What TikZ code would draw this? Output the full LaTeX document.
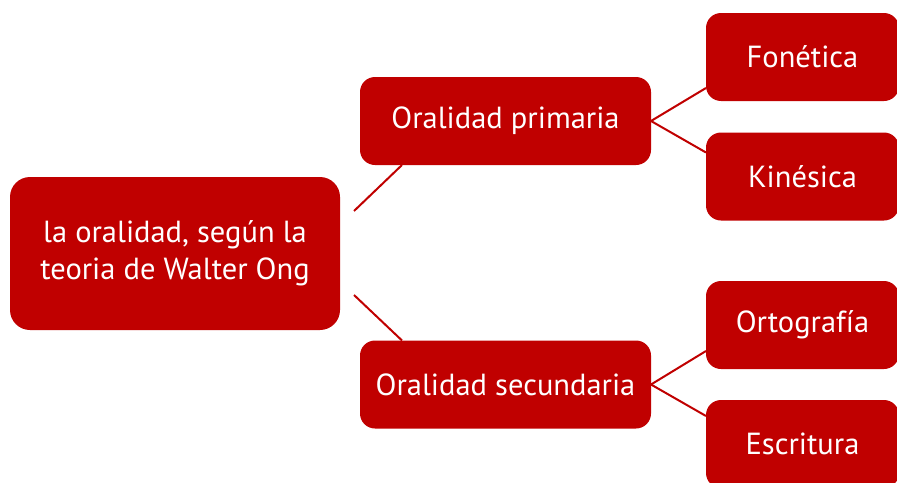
\documentclass[tikz,border=0pt]{standalone}
\usepackage{fontspec}
\setmainfont{PT Sans}
\definecolor{concept color}{HTML}{C00000}
\tikzset{
    x={1pt},
    y={-1pt},
    concept/.style={
        fill=concept color,
        text=white,
        align=center,
        rounded corners={15pt},
        inner sep=0pt,
        outer sep=0pt,
        font={\fontsize{30.5}{37}\selectfont},
    },
    root concept/.style={
        concept,
        rounded corners={20pt},
        minimum width={330},
        minimum height={153},
    },
    branch concept/.style={
        concept,
        minimum width={291},
        minimum height={88},
    },
    leaf concept/.style={
        concept,
        minimum width={193},
        minimum height={88},
    },
    link/.style={
        draw=concept color,
        line width={2pt},
    },
}

\begin{document}
\begin{tikzpicture}
\useasboundingbox (0,0) rectangle (897,482);
% concepts
\node[root concept] (ong) at (175,253.5) {la oralidad, según la\\teoria de Walter Ong};
\node[branch concept] (primaria) at (505.5,121) {Oralidad primaria};
\node[branch concept] (secundaria) at (505.5,384.5) {Oralidad secundaria};
\node[leaf concept] (fonetica) at (802.5,57) {Fonética};
\node[leaf concept] (kinesica) at (802.5,176.5) {Kinésica};
\node[leaf concept] (ortografia) at (802.5,325) {Ortografía};
\node[leaf concept] (escritura) at (802.5,444) {Escritura};
% links
\draw[link] ([shift={(14,34)}]ong.north east) -- ([shift={(42,0)}]primaria.south west);
\draw[link] ([shift={(14,-35)}]ong.south east) -- ([shift={(42,0)}]secundaria.north west);
\draw[link] (primaria.east) -- ([shift={(0,-13)}]fonetica.south west);
\draw[link] (primaria.east) -- ([shift={(0,20)}]kinesica.north west);
\draw[link] (secundaria.east) -- ([shift={(0,-18)}]ortografia.south west);
\draw[link] (secundaria.east) -- ([shift={(0,16)}]escritura.north west);
\end{tikzpicture}
\end{document}
